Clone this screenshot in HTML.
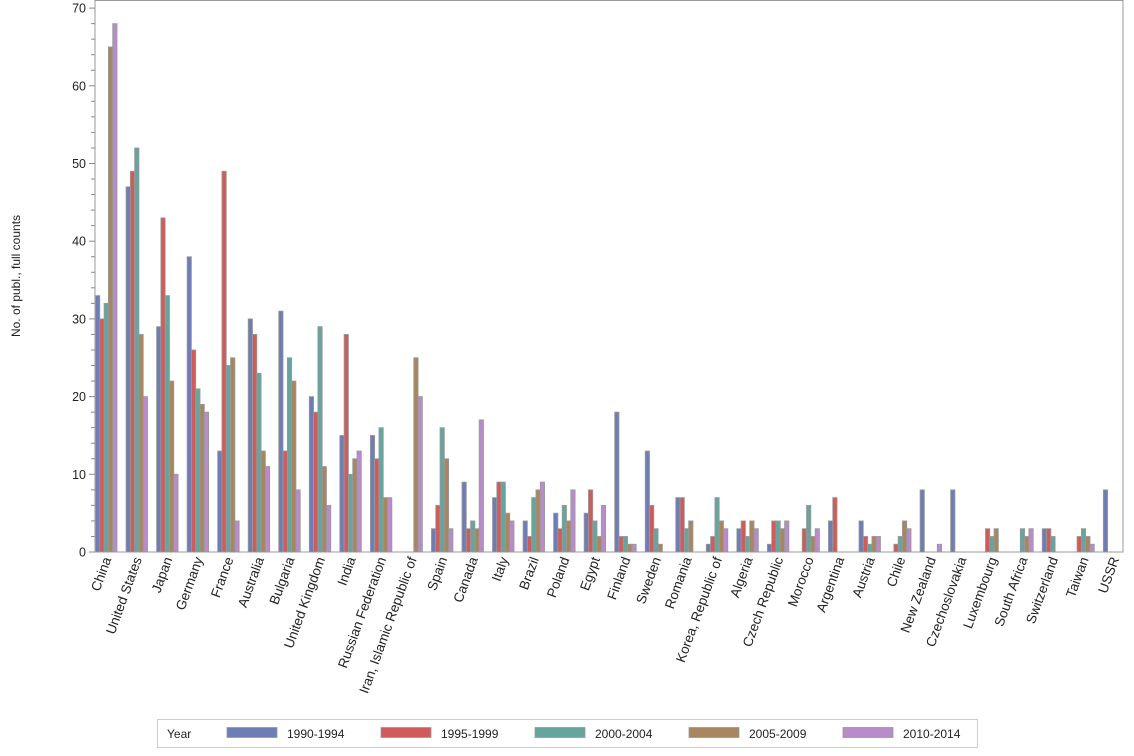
<!DOCTYPE html>
<html><head><meta charset="utf-8"><style>
html,body{margin:0;padding:0;background:#fff;}
svg{display:block;font-family:"Liberation Sans",Arial,sans-serif;}
</style></head><body>
<svg id="s" width="1134" height="756" xmlns="http://www.w3.org/2000/svg"></svg>
<script>
const data=[
["China",33,30,32,65,68],["United States",47,49,52,28,20],["Japan",29,43,33,22,10],["Germany",38,26,21,19,18],["France",13,49,24,25,4],["Australia",30,28,23,13,11],["Bulgaria",31,13,25,22,8],["United Kingdom",20,18,29,11,6],["India",15,28,10,12,13],["Russian Federation",15,12,16,7,7],["Iran, Islamic Republic of",0,0,0,25,20],["Spain",3,6,16,12,3],["Canada",9,3,4,3,17],["Italy",7,9,9,5,4],["Brazil",4,2,7,8,9],["Poland",5,3,6,4,8],["Egypt",5,8,4,2,6],["Finland",18,2,2,1,1],["Sweden",13,6,3,1,0],["Romania",7,7,3,4,0],["Korea, Republic of",1,2,7,4,3],["Algeria",3,4,2,4,3],["Czech Republic",1,4,4,3,4],["Morocco",0,3,6,2,3],["Argentina",4,7,0,0,0],["Austria",4,2,1,2,2],["Chile",0,1,2,4,3],["New Zealand",8,0,0,0,1],["Czechoslovakia",8,0,0,0,0],["Luxembourg",0,3,2,3,0],["South Africa",0,0,3,2,3],["Switzerland",3,3,2,0,0],["Taiwan",0,2,3,2,1],["USSR",8,0,0,0,0]];
const cols=["#6f7db5","#d05b5b","#66a59e","#a88660","#b88bcb"];
const y0=552,k=7.77,x0=95.5,step=30.54,bw=4.3;
let h='';
h+='<rect x="95" y="0.5" width="1028" height="551.5" fill="none" stroke="#999"/>';
for(let v=0;v<=70;v+=2){const y=y0-v*k;h+=`<line x1="${v%10?91:89}" x2="95" y1="${y}" y2="${y}" stroke="#888"/>`;
if(v%10==0)h+=`<text x="86" y="${y+4.5}" font-size="12.5" text-anchor="end" fill="#222">${v}</text>`;}
h+='<text transform="translate(20,276) rotate(-90)" font-size="12" text-anchor="middle" fill="#222">No. of publ., full counts</text>';
data.forEach((d,i)=>{const gx=x0+i*step;
for(let j=0;j<5;j++){const v=d[j+1];if(!v)continue;const x=gx+j*bw,hh=v*k;
h+=`<rect x="${x.toFixed(2)}" y="${(y0-hh).toFixed(2)}" width="${bw}" height="${hh.toFixed(2)}" fill="${cols[j]}" stroke="#999" stroke-width="0.8"/>`;}
const cx=gx+11;
h+=`<text transform="translate(${cx+5},559) rotate(-70)" font-size="13.5" text-anchor="end" fill="#222">${d[0]}</text>`;});
h+='<rect x="157.5" y="719.5" width="820" height="28" fill="#fff" stroke="#ccc"/>';
h+='<text x="167" y="738" font-size="12" fill="#222">Year</text>';
const labs=["1990-1994","1995-1999","2000-2004","2005-2009","2010-2014"];
labs.forEach((l,j)=>{const x=227+j*154;h+=`<rect x="${x}" y="727.5" width="50" height="10" fill="${cols[j]}" stroke="#999" stroke-width="0.8"/><text x="${x+60}" y="738" font-size="12" fill="#222">${l}</text>`;});
document.getElementById('s').innerHTML=h;
</script>
</body></html>
